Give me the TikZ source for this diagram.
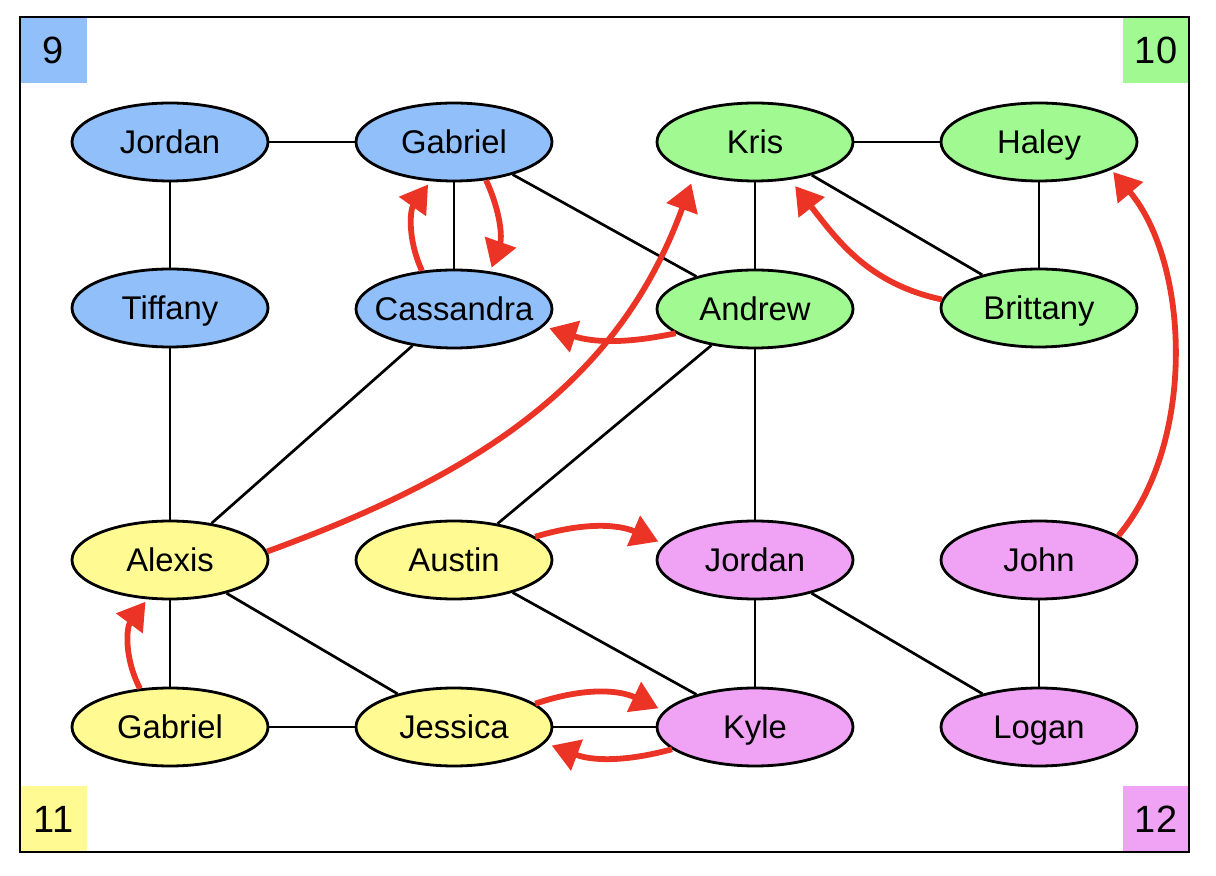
\documentclass[tikz,border=0pt]{standalone}
\usepackage{fontspec}
\setmainfont{Liberation Sans}
\usetikzlibrary{shapes.geometric,arrows.meta}
\definecolor{cblue}{RGB}{144,191,249}
\definecolor{cgreen}{RGB}{160,250,145}
\definecolor{cyellow}{RGB}{255,250,145}
\definecolor{cpink}{RGB}{240,163,245}
\definecolor{cred}{RGB}{235,52,37}
\begin{document}
\begin{tikzpicture}[x=0.5pt,y=-0.5pt,
  person/.style={ellipse,draw=black,line width=1.4pt,minimum width=98pt,minimum height=39pt,
    inner ysep=0pt,inner xsep=-8pt,font=\fontsize{16.4}{19}\selectfont,text height=11.7pt,text depth=0pt},
  tie/.style={draw=black,line width=1.35pt},
  rel/.style={draw=cred,line width=2.9pt,-{Triangle[length=13.5pt,width=16pt]}},
  cornerbox/.style={minimum width=33.5pt,minimum height=33pt,inner sep=0pt,
    font=\fontsize{19}{22}\selectfont,text height=13.6pt,text depth=0pt}]
\useasboundingbox (0,0) rectangle (1216,876);
\fill[white] (0,0) rectangle (1216,876);
% corner labels
\node[cornerbox,fill=cblue] (k9) at (53.5,50) {9};
\node[cornerbox,fill=cgreen] (k10) at (1156,50) {10};
\node[cornerbox,fill=cyellow,minimum height=32.5pt] (k11) at (53.5,818.5) {11};
\node[cornerbox,fill=cpink,minimum height=32.5pt] (k12) at (1156,818.5) {12};
\draw[line width=1pt] (20,17) rectangle (1189,852);
% people
\node[person,fill=cblue] (j9) at (170,142) {Jordan};
\node[person,fill=cblue] (g9) at (454,142) {Gabriel};
\node[person,fill=cblue] (t9) at (170,308) {Tiffany};
\node[person,fill=cblue] (cs) at (454,309) {Cassandra};
\node[person,fill=cgreen] (kr) at (755,142) {Kris};
\node[person,fill=cgreen] (ha) at (1039,142) {Haley};
\node[person,fill=cgreen] (an) at (755,309) {Andrew};
\node[person,fill=cgreen] (br) at (1039,308) {Brittany};
\node[person,fill=cyellow] (al) at (170,560) {Alexis};
\node[person,fill=cyellow] (au) at (454,560) {Austin};
\node[person,fill=cyellow] (gy) at (170,727) {Gabriel};
\node[person,fill=cyellow] (je) at (454,727) {Jessica};
\node[person,fill=cpink] (jp) at (755,560) {Jordan};
\node[person,fill=cpink] (jo) at (1039,560) {John};
\node[person,fill=cpink] (ky) at (755,727) {Kyle};
\node[person,fill=cpink] (lo) at (1039,727) {Logan};
% ties
\draw[tie] (j9) -- (g9);
\draw[tie] (j9) -- (t9);
\draw[tie] (g9) -- (cs);
\draw[tie] (g9) -- (an);
\draw[tie] (kr) -- (ha);
\draw[tie] (kr) -- (an);
\draw[tie] (kr) -- (br);
\draw[tie] (ha) -- (br);
\draw[tie] (t9) -- (al);
\draw[tie] (cs) -- (al);
\draw[tie] (an) -- (au);
\draw[tie] (an) -- (jp);
\draw[tie] (al) -- (gy);
\draw[tie] (al) -- (je);
\draw[tie] (au) -- (ky);
\draw[tie] (jp) -- (ky);
\draw[tie] (jp) -- (lo);
\draw[tie] (jo) -- (lo);
\draw[tie] (gy) -- (je);
\draw[tie] (je) -- (ky);
% red relations
\draw[rel,shorten >=2pt] (cs.130) to[bend left=30] (g9.-121);
\draw[rel,shorten >=2pt] (g9.-50) to[bend left=22] (cs.46);
\draw[rel,shorten >=3pt] (an.197) to[bend left=15] (cs.-11);
\draw[rel,shorten >=5pt] (al.5) to[out=20,in=250] (kr.208);
\draw[rel,shorten >=4pt] (br.175) to[out=168,in=-52] (kr.-47);
\draw[rel,shorten >=1.5pt] (jo.17) to[out=50,in=-50,looseness=0.85] (ha.-21);
\draw[rel,shorten >=3pt] (au.16) to[bend left=20] (jp.170);
\draw[rel,shorten >=1.5pt] (gy.128) to[bend left=32] (al.-120);
\draw[rel,shorten >=3pt] (je.16) to[bend left=22] (ky.170);
\draw[rel,shorten >=3.5pt] (ky.195) to[bend left=18] (je.-10);
\end{tikzpicture}
\end{document}
